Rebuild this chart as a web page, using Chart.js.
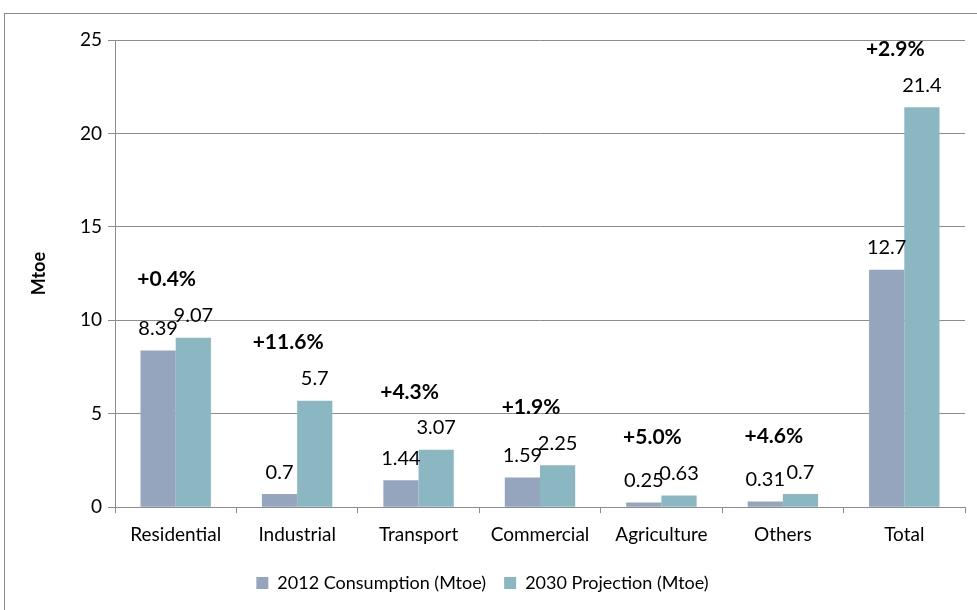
<!DOCTYPE html>
<html>
<head>
<meta charset="utf-8">
<script src="https://cdn.jsdelivr.net/npm/chart.js@4/dist/chart.umd.min.js"></script>
<style>
  html, body { margin: 0; padding: 0; background: #fff; }
  #wrap { position: relative; width: 977px; height: 610px; }
  #frame { position: absolute; left: 4px; top: 13px; width: 990px; height: 620px; border: 1px solid #8c8c8c; box-sizing: border-box; }
  canvas { position: absolute; left: 0; top: 0; }
</style>
</head>
<body>
<div id="wrap">
  <div id="frame"></div>
  <canvas id="myChart" width="977" height="610"></canvas>
</div>
<script>
// Data
const categories = ['Residential', 'Industrial', 'Transport', 'Commercial', 'Agriculture', 'Others', 'Total']
const consumption2012 = [8.39, 0.7, 1.44, 1.59, 0.25, 0.31, 12.7]
const projection2030 = [9.07, 5.7, 3.07, 2.25, 0.63, 0.7, 21.4]
const growthLabels = ['+0.4%', '+11.6%', '+4.3%', '+1.9%', '+5.0%', '+4.6%', '+2.9%']
const yTicks = [0, 5, 10, 15, 20, 25]

const FONT = 'Lato, "Open Sans", sans-serif'

// value labels above each bar + growth labels above each group
const labelPlugin = {
  id: 'labels',
  afterDatasetsDraw (chart) {
    const c = chart.ctx
    c.save()
    c.fillStyle = '#000'
    c.textAlign = 'center'
    c.textBaseline = 'middle'
    c.font = '20px ' + FONT
    chart.data.datasets.forEach((ds, di) => {
      chart.getDatasetMeta(di).data.forEach((bar, i) => {
        c.fillText(String(ds.data[i]), bar.x, bar.y - 22)
      })
    })
    c.font = 'bold 21px ' + FONT
    const m0 = chart.getDatasetMeta(0).data
    const m1 = chart.getDatasetMeta(1).data
    growthLabels.forEach((t, i) => {
      const top = Math.min(m0[i].y, m1[i].y)
      const x = chart.scales.x.getPixelForValue(i)
      c.fillText(t, x - 9, top - 58)
    })
    c.restore()
  }
}

const ctx = document.getElementById('myChart')
// eslint-disable-next-line no-unused-vars
const myChart = new Chart(ctx, {
  type: 'bar',
  data: {
    labels: categories,
    datasets: [{
      label: '2012 Consumption (Mtoe)',
      data: consumption2012,
      backgroundColor: '#95a5be'
    }, {
      label: '2030 Projection (Mtoe)',
      data: projection2030,
      backgroundColor: '#8bb7c2'
    }]
  },
  options: {
    responsive: false,
    animation: false,
    layout: { padding: { top: 40, right: 12, left: 0, bottom: 8 } },
    datasets: {
      bar: { categoryPercentage: 0.58, barPercentage: 1.0 }
    },
    scales: {
      x: {
        grid: { display: true, drawOnChartArea: false, offset: true, tickLength: 6, color: '#8c8c8c' },
        border: { color: '#8c8c8c' },
        ticks: { color: '#000', font: { family: FONT, size: 19 }, padding: 10 }
      },
      y: {
        min: 0,
        max: 25,
        afterBuildTicks (scale) {
          scale.ticks = yTicks.map(v => ({ value: v }))
        },
        afterFit (scale) { scale.width = 115 },
        grid: { color: '#8c8c8c', tickLength: 7 },
        border: { color: '#8c8c8c' },
        title: { display: true, text: 'Mtoe', color: '#000', padding: { top: 28, bottom: 0 }, font: { family: FONT, size: 18, weight: 'bold' } },
        ticks: { color: '#000', font: { family: FONT, size: 19 }, padding: 6 }
      }
    },
    plugins: {
      legend: {
        position: 'bottom',
        labels: {
          color: '#000',
          font: { family: FONT, size: 18 },
          boxWidth: 12,
          boxHeight: 12,
          padding: 18
        }
      },
      tooltip: { enabled: false }
    }
  },
  plugins: [labelPlugin]
})
</script>
</body>
</html>
